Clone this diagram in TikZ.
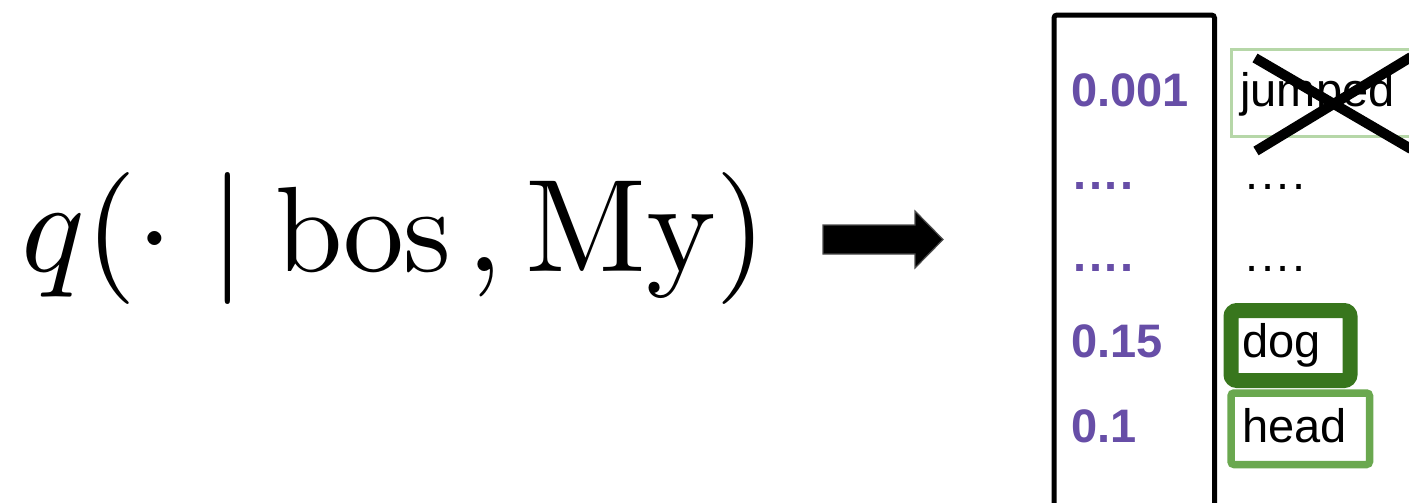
\documentclass[tikz,border=0pt]{standalone}
\usepackage{graphicx}
\usepackage{fontspec}
\newfontfamily\arialf{Liberation Sans}
\definecolor{vpurple}{HTML}{674EA7}
\definecolor{dgreen}{HTML}{38761D}
\definecolor{mgreen}{HTML}{6AA84F}
\definecolor{lgreen}{HTML}{B6D7A8}
\newcommand\dotrow{.\kern1.3pt.\kern1.3pt.\kern1.3pt.}
\tikzset{
  prob/.style={anchor=base west, inner sep=0pt, text=vpurple, font=\arialf\bfseries\fontsize{23.5}{28}\selectfont},
  word/.style={anchor=base west, inner sep=0pt, text=black, font=\arialf\fontsize{23.5}{28}\selectfont},
}
\begin{document}
\begin{tikzpicture}[x=0.5pt,y=-0.5pt]
\useasboundingbox (0,0) rectangle (1409,503);
\clip (0,0) rectangle (1409,503);
% formula
\node[anchor=base west, inner sep=0pt] (formula) at (21,271)
  {\scalebox{6.6}{\fontsize{10}{12}\selectfont
   $q(\cdot\mid\mskip-1mu\scalebox{0.92}{$\mathrm{bos}$}\mskip2mu,\mathrm{My})$}};
% block arrow
\filldraw[fill=black, draw=black!70, line width=0.6pt]
  (823,225) -- (915,225) -- (915,211) -- (943,239.5) -- (915,268) -- (915,254) -- (823,254) -- cycle;
% main column box
\draw[line width=2.5pt, rounded corners=1.5pt] (1054,530) -- (1054,15) -- (1214.5,15) -- (1214.5,530);
% probabilities
\node[prob] (p1) at (1071,106) {0.001};
\node[prob] (p2) at (1073,189) {\dotrow};
\node[prob] (p3) at (1073,271) {\dotrow};
\node[prob] (p4) at (1071,357) {0.15};
\node[prob] (p5) at (1071,442) {0.1};
% word boxes
\draw[lgreen, line width=1.5pt] (1231.5,49.5) rectangle (1430,136.5);
\draw[dgreen, line width=7.5pt, rounded corners=3pt] (1231,310.5) rectangle (1350,380.5);
\draw[mgreen, line width=3.75pt, rounded corners=1.5pt] (1231,393) rectangle (1369.5,464.5);
% words
\node[word] (w1) at (1240,106) {jumped};
\node[word] (w2) at (1245,189) {\dotrow};
\node[word] (w3) at (1245,271) {\dotrow};
\node[word] (w4) at (1242,357) {dog};
\node[word] (w5) at (1242,442) {head};
% cross
\draw[line width=5pt] (1255,58) -- (1411,149);
\draw[line width=5pt] (1256,151) -- (1411,57);
\end{tikzpicture}
\end{document}
